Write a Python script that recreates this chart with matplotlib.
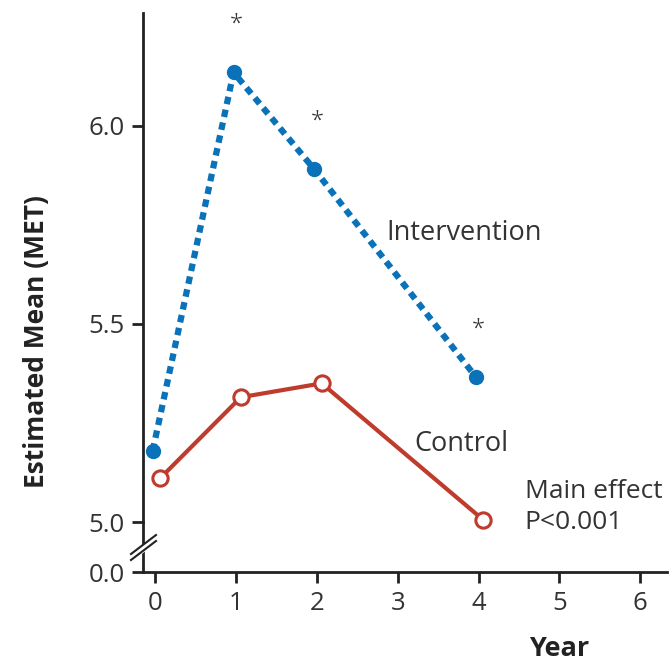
import matplotlib.pyplot as plt
from matplotlib.lines import Line2D

plt.rcParams["font.family"] = ["Open Sans", "DejaVu Sans"]

years = [0, 1, 2, 4]
intervention = [5.18, 6.135, 5.89, 5.365]
control = [5.11, 5.315, 5.35, 5.005]
signif_years = [1, 2, 4]
signif_values = [6.135, 5.89, 5.365]

BLUE = "#0a72b8"
RED = "#bf3b2b"
DARK = "#222222"
TXT = "#333333"

W, H = 670, 666
fig = plt.figure(figsize=(W / 100, H / 100), dpi=100)

x0, x1 = 143, 667
y_top, y_five, y_zero = 13, 522, 572
axb = fig.add_axes([x0 / W, (H - y_zero) / H, (x1 - x0) / W, (y_zero - y_five) / H])
ax = fig.add_axes([x0 / W, (H - y_five) / H, (x1 - x0) / W, (y_five - y_top) / H])
ax.patch.set_visible(False)
axb.patch.set_visible(False)

xlim = (-0.15, 6.33)
ax.set_xlim(*xlim)
ax.set_ylim(5.0, 6.285)
axb.set_xlim(*xlim)
axb.set_ylim(0.0, 0.126)

off_i, off_c = -0.03, 0.06
ax.plot([y + off_i for y in years], intervention, color=BLUE, lw=4.5,
        linestyle=(0, (1.2, 0.9)), dash_capstyle="butt", marker="o",
        markersize=10, markerfacecolor=BLUE, markeredgecolor=BLUE, zorder=3)
ax.plot([y + off_c for y in years], control, color=RED, lw=3, marker="o",
        markersize=11, markerfacecolor="white", markeredgecolor=RED,
        markeredgewidth=2.2, zorder=3, clip_on=False)

for yr, v in zip(signif_years, signif_values):
    ax.text(yr, v + 0.12, "*", ha="center", va="center", fontsize=17,
            color=TXT, fontweight="light")

ax.text(2.86, 5.73, "Intervention", fontsize=19.5, color=TXT, va="center")
ax.text(3.2, 5.196, "Control", fontsize=19.5, color=TXT, va="center")
ax.text(4.57, 5.038, "Main effect\nP<0.001", fontsize=19, color=TXT,
        va="center", linespacing=1.3, clip_on=False)

for a in (ax, axb):
    a.spines["top"].set_visible(False)
    a.spines["right"].set_visible(False)
    a.spines["left"].set_linewidth(2)
    a.spines["left"].set_color(DARK)
    a.tick_params(axis="both", direction="out", length=8, width=2,
                  color=DARK, labelcolor=TXT, labelsize=18.5, pad=5)

ax.spines["bottom"].set_visible(False)
ax.set_xticks([])
ax.set_yticks([5.0, 5.5, 6.0])
ax.set_yticklabels(["5.0", "5.5", "6.0"])

axb.spines["bottom"].set_linewidth(2)
axb.spines["bottom"].set_color(DARK)
axb.set_yticks([0.0])
axb.set_yticklabels(["0.0"])
axb.set_xticks(range(0, 7))
axb.tick_params(axis="x", pad=6)
axb.set_xlabel("Year", fontsize=19.5, fontweight="bold", color=DARK)
axb.xaxis.set_label_coords(0.795, -1.28)

ax.set_ylabel("Estimated Mean (MET)", fontsize=19, fontweight="bold",
              color=DARK)
ax.yaxis.set_label_coords(-0.178, 0.355)

# axis break marks
def fx(px):
    return px / W


def fy(py):
    return (H - py) / H


fig.add_artist(Line2D([fx(136), fx(152)], [fy(554), fy(542)], color="white",
                      lw=5, zorder=5))
for d in (-3, 3):
    fig.add_artist(Line2D([fx(131), fx(156)], [fy(557 + d), fy(538 + d)],
                          color=DARK, lw=1.5, zorder=6))

fig.savefig("out.png", dpi=100)
